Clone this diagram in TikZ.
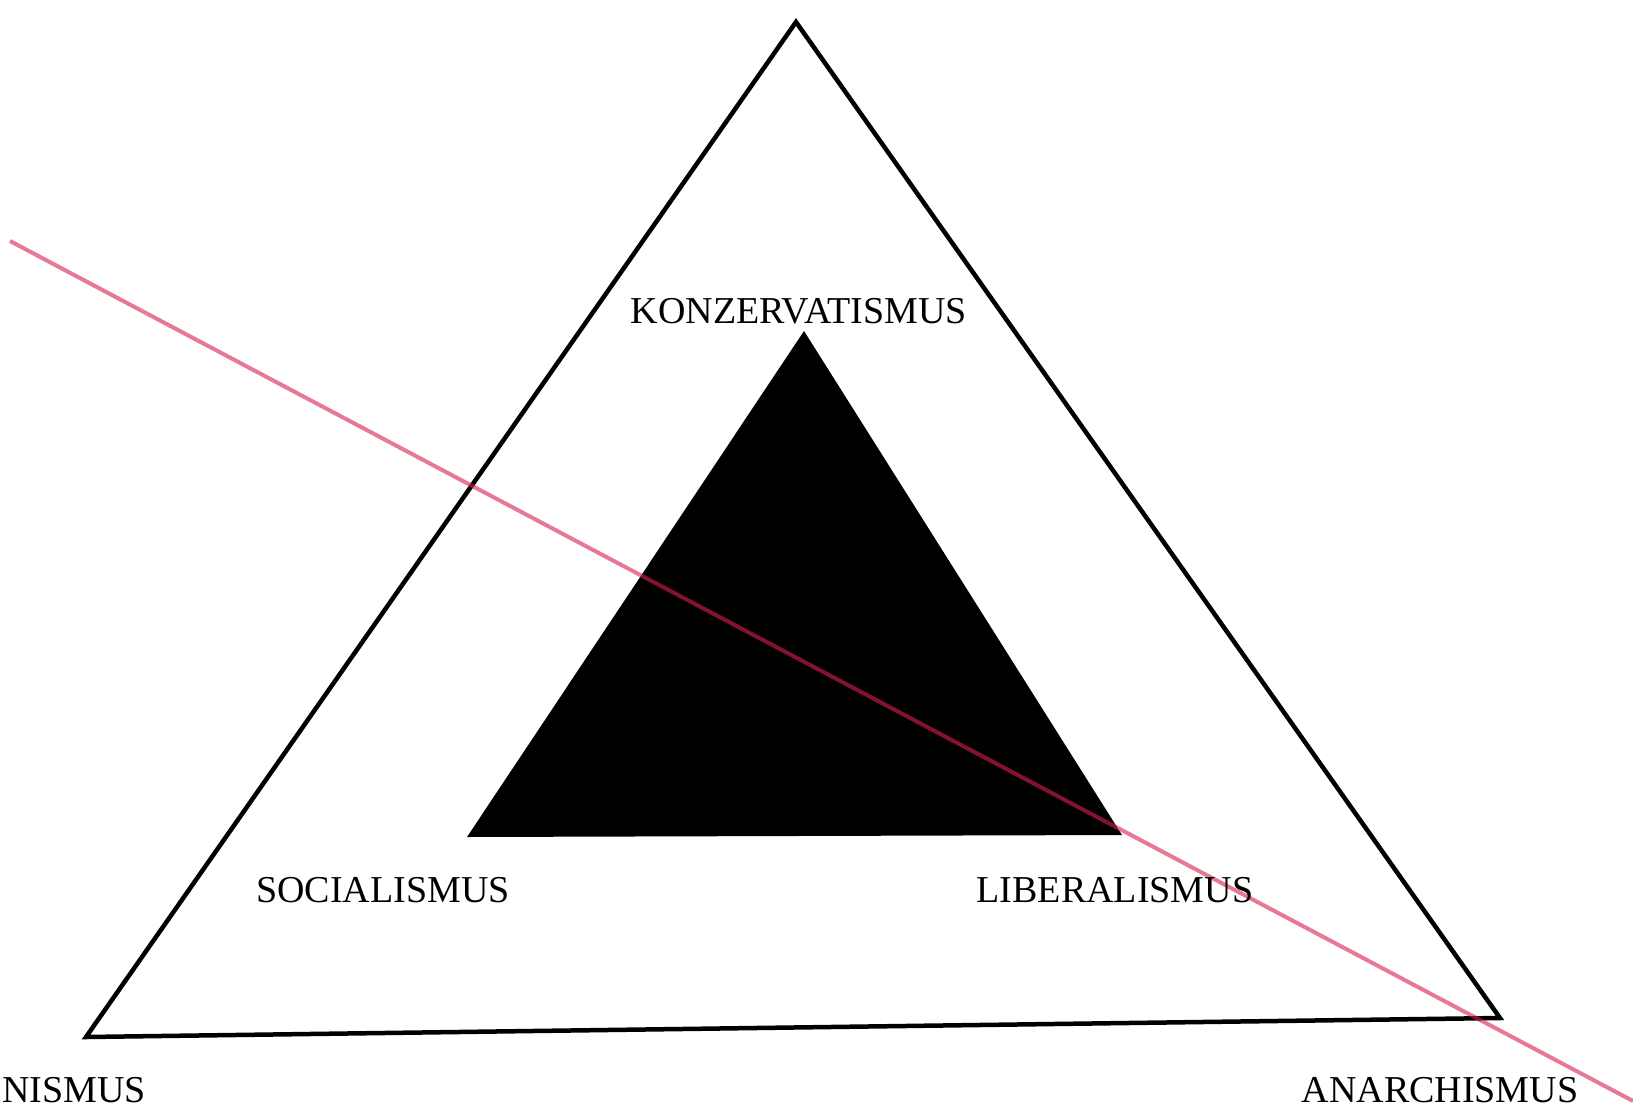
\documentclass[tikz,border=0pt]{standalone}
\usepackage{fontspec}
\setmainfont{Liberation Serif}
\usetikzlibrary{positioning}
\definecolor{axisred}{rgb}{0.85,0.12,0.30}

\begin{document}
\begin{tikzpicture}[
    x=1pt, y=-1pt,
    frame/.style={draw=black, line width=4.5pt, line join=miter},
    core/.style={fill=black},
    axisline/.style={draw=axisred, line width=4pt, opacity=0.6},
    ideology/.style={inner sep=0pt, font=\fontsize{38}{40}\selectfont},
]
    \useasboundingbox (0,0) rectangle (1633,1109);
    % outer triangle
    \coordinate (top) at (796,22);
    \coordinate (left) at (86,1037);
    \coordinate (right) at (1500,1018);
    % inner triangle
    \coordinate (itop) at (804,331);
    \coordinate (ileft) at (467,837);
    \coordinate (iright) at (1122,835);
    % ends of the red line
    \coordinate (rstart) at (10,241);
    \coordinate (rend) at (1633,1101);

    \draw[frame] (top) -- (left) -- (right) -- cycle;
    \fill[core] (itop) -- (ileft) -- (iright) -- cycle;
    \draw[axisline] (rstart) -- (rend);

    \node[ideology] (kons) at (799,311) {KONZERVATISMUS};
    \node[ideology] (soc) at (383,890) {SOCIALISMUS};
    \node[ideology] (lib) at (1115,890) {LIBERALISMUS};
    \node[ideology, anchor=east] (kom) at (146,1090) {NISMUS};
    \node[ideology] (anar) at (1440,1090) {ANARCHISMUS};
\end{tikzpicture}
\end{document}
